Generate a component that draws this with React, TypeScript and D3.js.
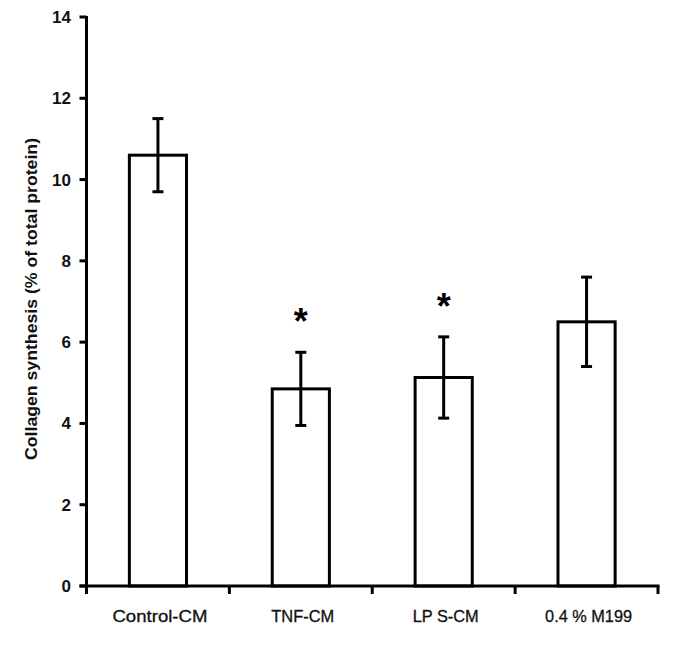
import * as React from 'react';
import { scaleBand, scaleLinear, range } from 'd3';

const categories = ['Control-CM', 'TNF-CM', 'LPS-CM', '0.4% M199'];
const categoryLabels = ['Control-CM', 'TNF-CM', 'LP S-CM', '0.4 % M199'];
const means = [10.6, 4.85, 5.13, 6.5];
const errors = [0.9, 0.9, 1.0, 1.1];
const significant = [false, true, true, false];
const yTicks = [0, 2, 4, 6, 8, 10, 12, 14];
const yLabel = 'Collagen synthesis (% of total protein)';

const labelWidths = [95, 63, 66, 87];

export default function App() {
  const width = 685;
  const height = 654;
  const left = 86.5;
  const right = 658;
  const bottom = 586;
  const top = 17;

  const x = scaleBand<string>().domain(categories).range([left, right]).paddingInner(0.6).paddingOuter(0.3);
  const xEdge = scaleLinear().domain([0, categories.length]).range([left, right]);
  const y = scaleLinear().domain([0, 14]).range([bottom, top]);
  const cap = 5.5;
  const font = 'Arial, "Liberation Sans", sans-serif';

  return (
    <svg width={width} height={height} style={{ position: 'absolute', left: 0, top: 0, background: '#fff' }}>
      {/* bars */}
      {categories.map((c, i) => (
        <rect key={c} x={x(c)} y={y(means[i])} width={x.bandwidth()} height={bottom - y(means[i])}
          fill="#fff" stroke="#000" strokeWidth={3} />
      ))}
      {/* error bars */}
      {categories.map((c, i) => {
        const cx = (x(c) ?? 0) + x.bandwidth() / 2;
        const hi = y(means[i] + errors[i]);
        const lo = y(means[i] - errors[i]);
        return (
          <g key={c} stroke="#000" strokeWidth={3}>
            <line x1={cx} x2={cx} y1={hi} y2={lo} />
            <line x1={cx - cap} x2={cx + cap} y1={hi} y2={hi} />
            <line x1={cx - cap} x2={cx + cap} y1={lo} y2={lo} />
            {significant[i] && (
              <text x={cx} y={hi - 36 + 18} textAnchor="middle" fontFamily={font} fontWeight="bold"
                fontSize={36} fill="#000" stroke="none">*</text>
            )}
          </g>
        );
      })}
      {/* y axis */}
      <line x1={left} x2={left} y1={top - 1} y2={bottom + 1.5} stroke="#000" strokeWidth={3} />
      {yTicks.map(t => (
        <g key={t}>
          <line x1={left - 7} x2={left} y1={y(t)} y2={y(t)} stroke="#000" strokeWidth={3} />
          <text x={71} y={y(t) + 6} textAnchor="end" fontFamily={font} fontWeight="bold" fontSize={17} fill="#111">{t}</text>
        </g>
      ))}
      {/* x axis */}
      <line x1={left - 7} x2={right + 1.5} y1={bottom} y2={bottom} stroke="#000" strokeWidth={3} />
      {range(categories.length + 1).map(k => (
        <line key={k} x1={xEdge(k)} x2={xEdge(k)} y1={bottom} y2={bottom + 8} stroke="#000" strokeWidth={3} />
      ))}
      {categories.map((c, i) => (
        <text key={c} x={(x(c) ?? 0) + x.bandwidth() / 2 + 2} y={622} textAnchor="middle" fontFamily={font}
          fontSize={16} fill="#111" stroke="#111" strokeWidth={0.3}
          textLength={labelWidths[i]} lengthAdjust="spacingAndGlyphs">{categoryLabels[i]}</text>
      ))}
      {/* y label */}
      <text transform={`translate(37, 299) rotate(-90)`} textAnchor="middle" fontFamily={font} fontWeight="bold"
        fontSize={16} fill="#111" textLength={322} lengthAdjust="spacingAndGlyphs">{yLabel}</text>
    </svg>
  );
}
